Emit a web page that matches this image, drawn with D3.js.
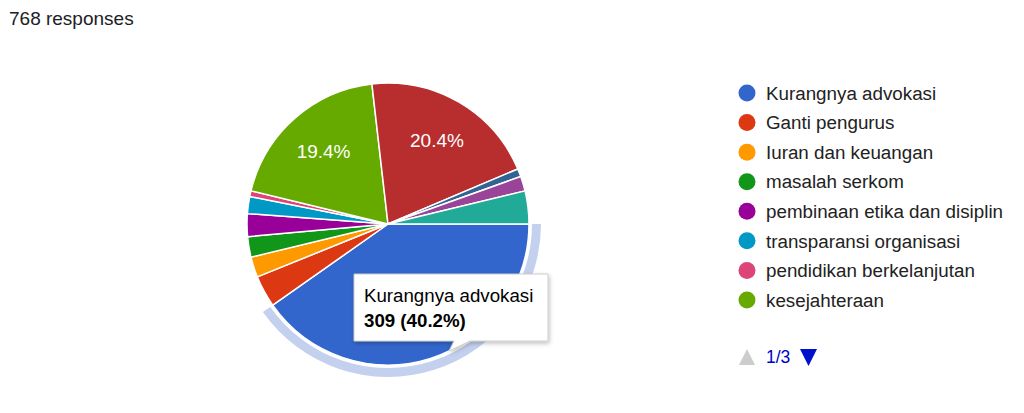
<!DOCTYPE html>
<html><head><meta charset="utf-8">
<script src="https://cdn.jsdelivr.net/npm/d3@7"></script>
<style>
html,body{margin:0;padding:0;background:#fff;}
svg{display:block;font-family:"Liberation Sans",Arial,Helvetica,sans-serif;}
</style></head>
<body>
<svg id="chart" width="1024" height="413"></svg>
<script>
// Data
const categories = ["Kurangnya advokasi","Ganti pengurus","Iuran dan keuangan","masalah serkom",
  "pembinaan etika dan disiplin","transparansi organisasi","pendidikan berkelanjutan","kesejahteraan",
  "kategori 9","kategori 10","kategori 11","kategori 12"];
const values = [309, 28, 18, 18, 20, 15, 5, 149, 157, 7, 13, 29];
const colors = ["#3366cc","#dc3912","#ff9900","#109618","#990099","#0099c6","#dd4477","#66aa00",
  "#b82e2e","#316395","#994499","#22aa99"];
const legendCount = 8;
const totalResponses = 768;
const pageLabel = "1/3";

const svg = d3.select("#chart");
const cx = 388, cy = 224, R = 141;

svg.append("text").attr("x", 9).attr("y", 25).attr("font-size", 19)
  .attr("fill", "#202124").text(totalResponses + " responses");

const total = d3.sum(values);
const pie = d3.pie().sort(null).value(d => d)
  .startAngle(Math.PI/2).endAngle(Math.PI/2 + 2*Math.PI);
const arcs = pie(values);
const arc = d3.arc().innerRadius(0).outerRadius(R);
const g = svg.append("g").attr("transform", `translate(${cx},${cy})`);

// hover halo for first slice
const halo = d3.arc().innerRadius(R + 3).outerRadius(R + 12);
g.append("path").attr("d", halo(arcs[0])).attr("fill", "#c3d1ee");

g.selectAll("path.slice").data(arcs).join("path").attr("class","slice")
  .attr("d", arc).attr("fill", (d,i) => colors[i])
  .attr("stroke", "#fff").attr("stroke-width", 1.5).attr("stroke-linejoin","round");

// percentage labels for big slices (except hovered one, covered by tooltip)
const labArc = d3.arc().innerRadius(R*0.69).outerRadius(R*0.69);
arcs.forEach((d,i) => {
  const p = d.value / total;
  if (p > 0.1 && i !== 0) {
    const [x,y] = labArc.centroid(d);
    g.append("text").attr("x", x).attr("y", y).attr("dy","0.35em")
      .attr("text-anchor","middle").attr("font-size", 19).attr("fill","#fff")
      .text(d3.format(".1f")(p*100) + "%");
  }
});

// Tooltip
const tip = svg.append("g");
const bx = 354, by = 274, bw = 194, bh = 67;
const defs = svg.append("defs");
const f = defs.append("filter").attr("id","sh").attr("x","-20%").attr("y","-20%").attr("width","140%").attr("height","150%");
f.append("feDropShadow").attr("dx",1).attr("dy",2).attr("stdDeviation",2).attr("flood-color","#000").attr("flood-opacity",0.25);
tip.append("path")
  .attr("d", `M${bx},${by}H${bx+bw}V${by+bh}H${bx+116}L${bx+95},${by+bh+10}L${bx+100},${by+bh}H${bx}Z`)
  .attr("fill","#fff").attr("stroke","#cccccc").attr("stroke-width",1).attr("filter","url(#sh)");
tip.append("text").attr("x", bx+10).attr("y", by+28).attr("font-size", 18.7).attr("fill","#000")
  .text(categories[0]);
tip.append("text").attr("x", bx+10).attr("y", by+53).attr("font-size", 18.7).attr("font-weight","bold").attr("fill","#000")
  .text(values[0] + " (" + d3.format(".1f")(values[0]/total*100) + "%)");

// Legend
const ly = d3.scalePoint().domain(d3.range(legendCount)).range([93, 300]);
const leg = svg.append("g");
d3.range(legendCount).forEach(i => {
  leg.append("circle").attr("cx", 747).attr("cy", ly(i)).attr("r", 8.5).attr("fill", colors[i]);
  leg.append("text").attr("x", 766).attr("y", ly(i)).attr("dy","0.36em").attr("font-size", 18.8)
    .attr("fill","#222").text(categories[i]);
});
// pagination
const py = 357;
leg.append("path").attr("d", `M${739},${py+8}L${755},${py+8}L${747},${py-8}Z`).attr("fill","#cccccc");
leg.append("text").attr("x", 766).attr("y", py).attr("dy","0.36em").attr("font-size", 17.5)
  .attr("fill","#0000cc").text(pageLabel);
leg.append("path").attr("d", `M${800},${py-8}L${817},${py-8}L${808.5},${py+9}Z`).attr("fill","#0011cc");
</script>
</body></html>
